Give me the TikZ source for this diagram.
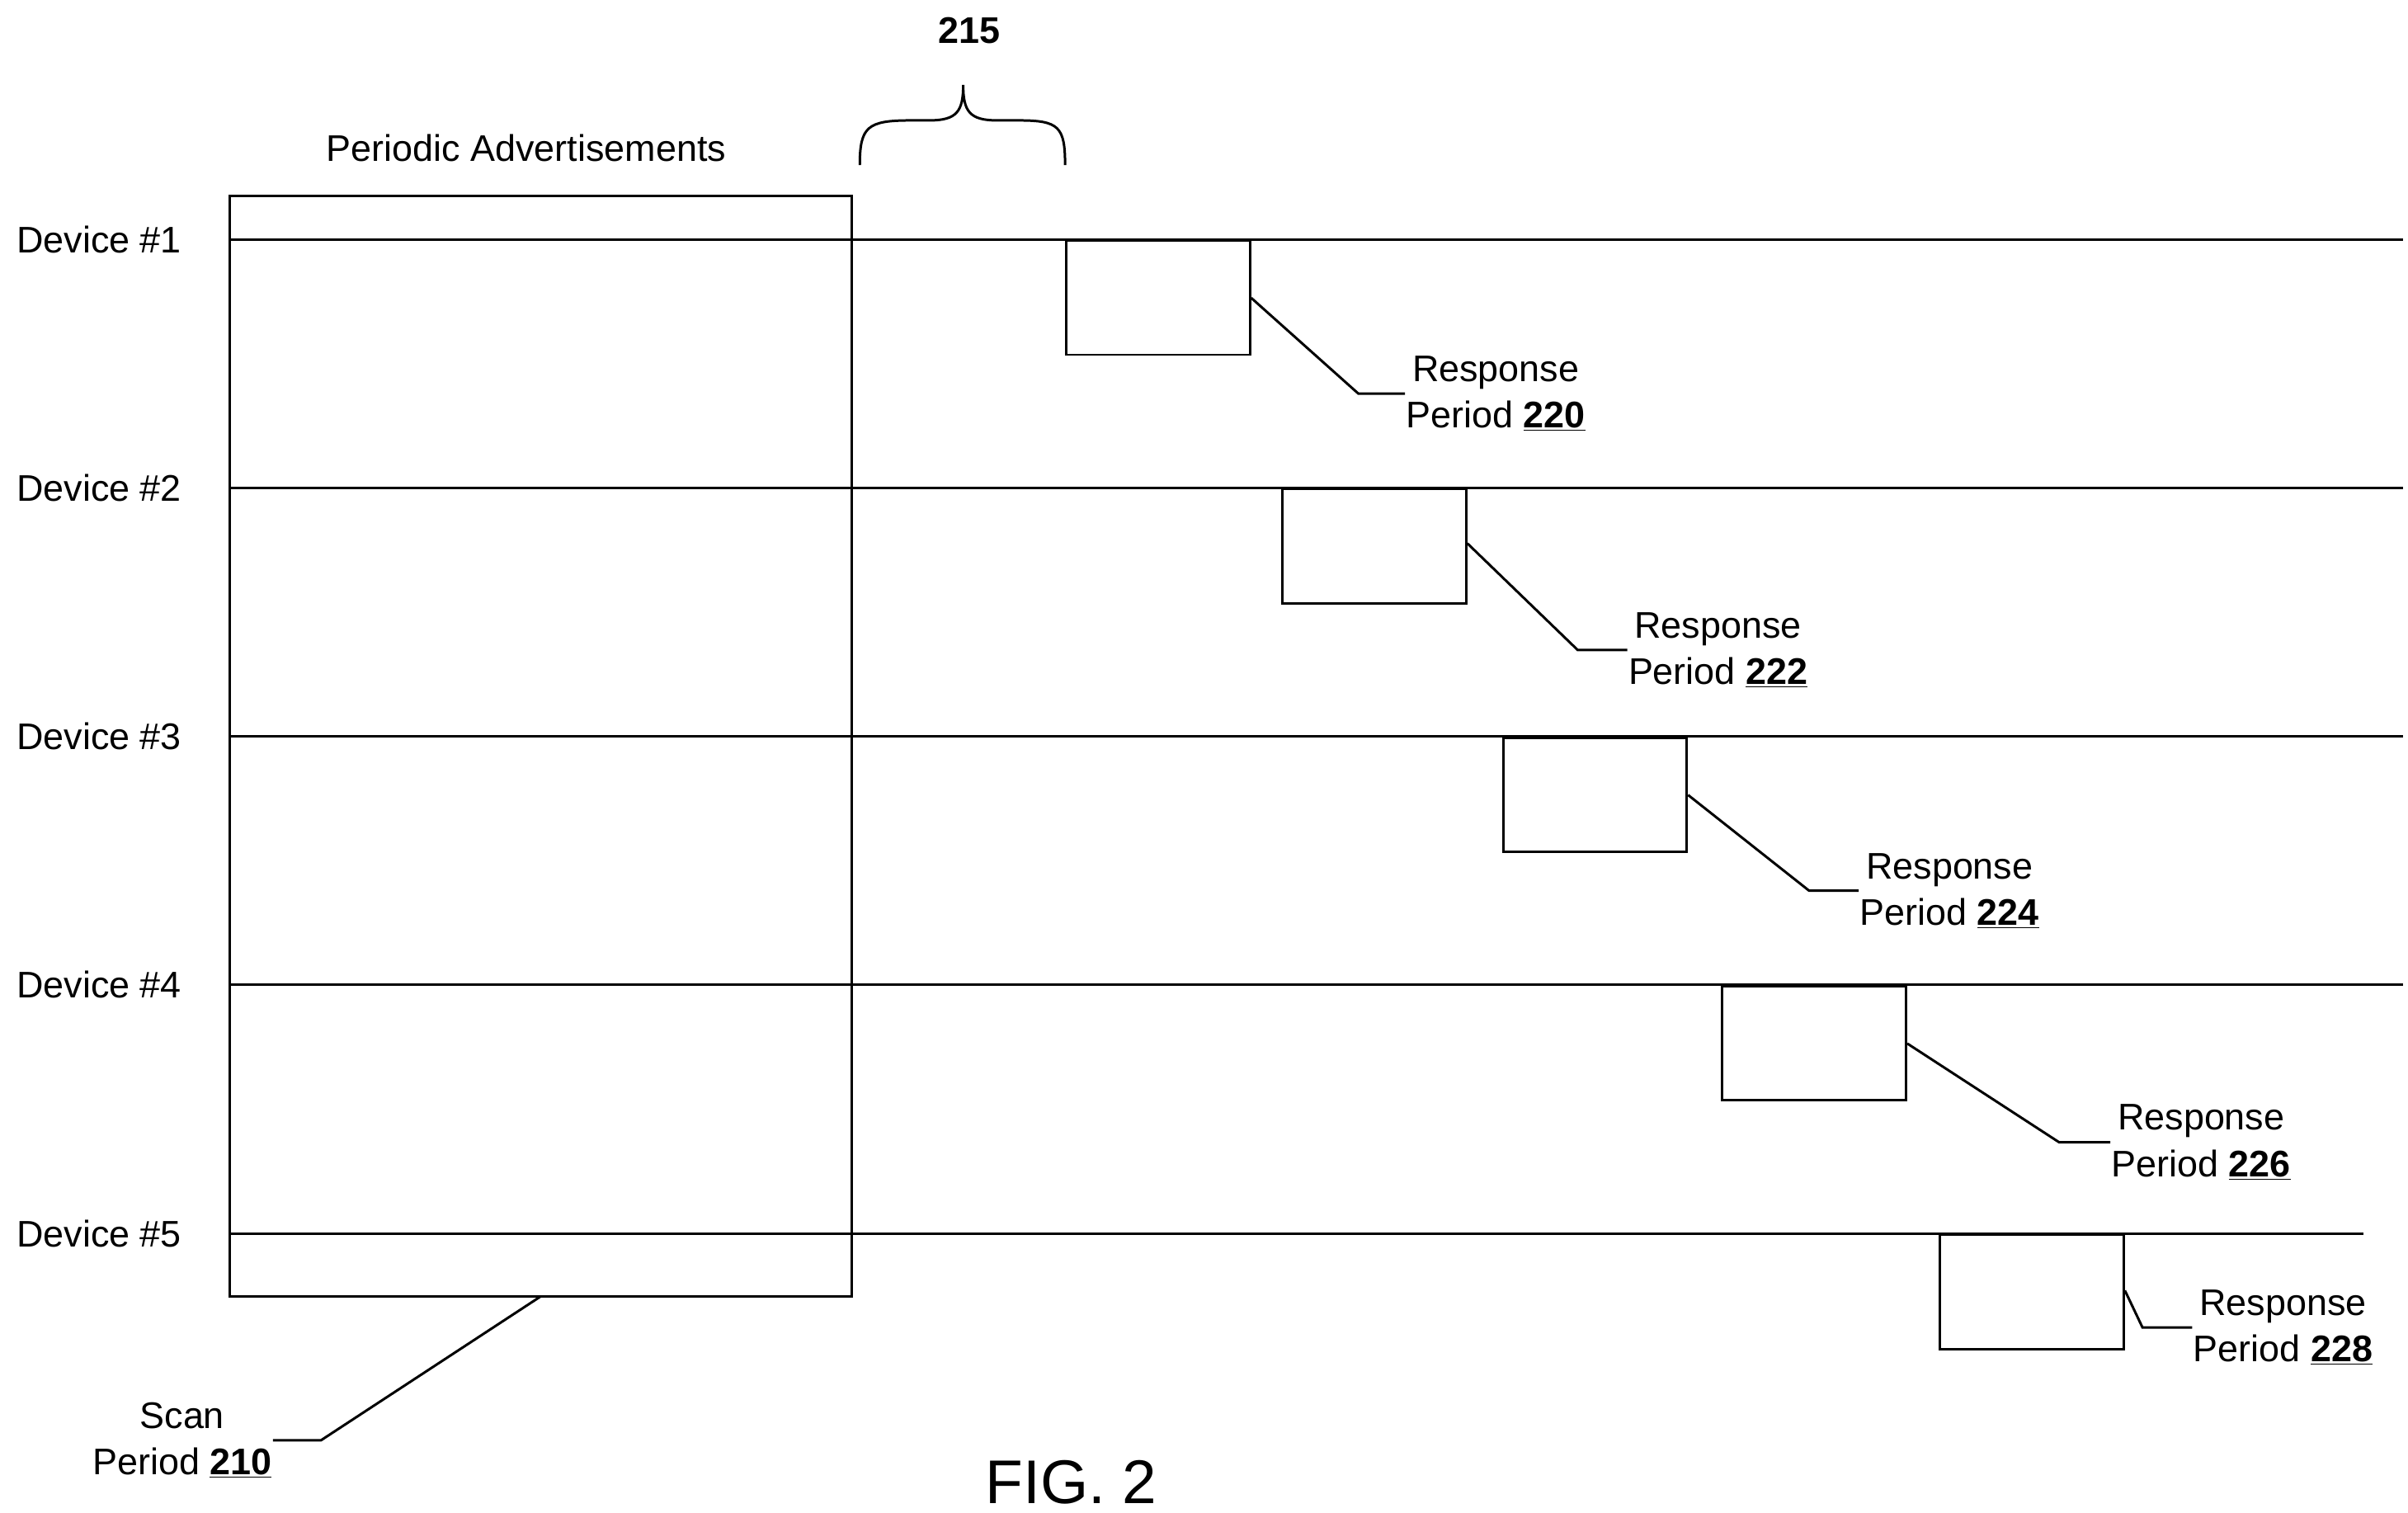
\documentclass[tikz,border=0pt]{standalone}
\usepackage{fontspec}
\setmainfont{Liberation Sans}
\begin{document}
\begin{tikzpicture}[x=1pt,y=-1pt,line width=1.6pt,
  lbl/.style={font=\fontsize{24}{30}\selectfont,inner sep=0pt},
  ml/.style={lbl,align=center},
  rbox/.style={draw,minimum width=119pt,minimum height=74pt,inner sep=0pt,anchor=north west}]
\useasboundingbox (0,0) rectangle (1560,980);
\draw (149,127) rectangle (552,840);
\foreach \y/\n/\e in {155/1/1557,316/2/1557,477/3/1557,638/4/1557,799/5/1531}{
  \node[lbl,anchor=west] (d\n) at (10,\y) {Device \#\n};
  \coordinate (e\n) at (\e,\y);
  \draw (149,\y) -- (e\n);
}
\node[lbl] (pa) at (341,96) {Periodic Advertisements};
\node[lbl,font=\fontsize{24}{30}\selectfont\bfseries] (n215) at (628,20) {215};
\draw (557,107) .. controls (557,82) and (562,78) .. (590,78) -- (602,78) .. controls (620,78) and (624,72) .. (624,55) .. controls (624,72) and (628,78) .. (646,78) -- (660,78) .. controls (686,78) and (690,82) .. (690,107);
\node[rbox] (b1) at (690,155) {};
\node[rbox] (b2) at (830,316) {};
\node[rbox] (b3) at (973,477) {};
\node[rbox] (b4) at (1115,638) {};
\node[rbox] (b5) at (1256,799) {};
\node[ml] (t1) at (969,255) {Response\\Period \underline{\textbf{220}}};
\node[ml] (t2) at (1113,421) {Response\\Period \underline{\textbf{222}}};
\node[ml] (t3) at (1263,577) {Response\\Period \underline{\textbf{224}}};
\node[ml] (t4) at (1426,740) {Response\\Period \underline{\textbf{226}}};
\node[ml] (t5) at (1479,860) {Response\\Period \underline{\textbf{228}}};
\node[ml] (t0) at (118,933) {Scan\\Period \underline{\textbf{210}}};
\draw (b1.east |- 0,193) -- (880,255) -- (t1.west);
\draw (b2.east |- 0,352) -- (1022,421) -- (t2.west);
\draw (b3.east |- 0,515) -- (1172,577) -- (t3.west);
\draw (b4.east |- 0,676) -- (1334,740) -- (t4.west);
\draw (b5.east |- 0,836) -- (1388,860) -- (t5.west);
\draw (350,840) -- (208,933) -- (t0.east);
\node[font=\fontsize{40}{46}\selectfont] (fig) at (694,960) {FIG. 2};
\end{tikzpicture}
\end{document}
